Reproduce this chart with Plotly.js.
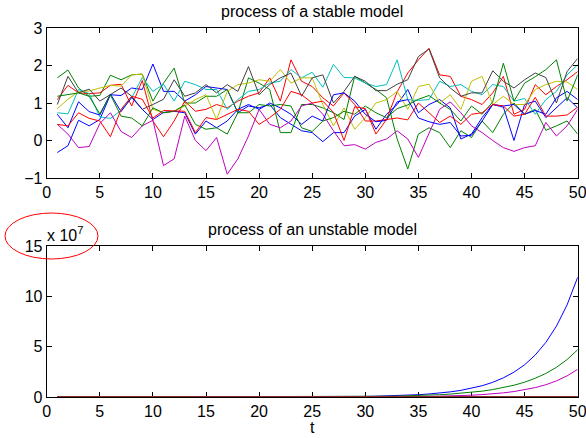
<!DOCTYPE html>
<html>
<head>
<meta charset="utf-8">
<script src="https://cdn.plot.ly/plotly-3.0.1.min.js"></script>
<style>html,body{margin:0;padding:0;background:#fff}#chart{width:586px;height:438px}</style>
</head>
<body>
<div id="chart"></div>
<script>
// time steps
const t = [1,2,3,4,5,6,7,8,9,10,11,12,13,14,15,16,17,18,19,20,21,22,23,24,25,26,27,28,29,30,31,32,33,34,35,36,37,38,39,40,41,42,43,44,45,46,47,48,49,50];

// ---- stable model (top) : 10 realisations ----
const stableB1 = [-0.32,-0.14,0.54,0.39,0.56,1.22,1.2,1.4,1.36,2.04,1.31,1.31,1.05,1.22,1.44,1.4,1.36,0.74,0.92,0.87,0.96,0.61,0.43,0.26,0.21,-0.03,0.21,0.21,0.65,0.83,0.3,0.7,0.96,1.36,0.74,0.96,1.09,0.87,0.04,0.17,0.61,0.96,0.89,0.0,0.96,1.05,0.61,0.87,1.14,0.87];
const stableG1 = [1.67,1.88,1.4,1.18,1.2,1.74,1.62,1.75,1.77,1.05,1.53,1.93,1.0,1.0,1.18,1.18,1.36,0.74,1.67,1.53,1.36,0.21,0.21,0.96,0.96,0.87,0.74,0.56,1.71,1.53,1.36,1.14,0.04,-0.76,0.17,0.34,0.21,-0.19,0.26,0.08,0.52,0.21,0.7,1.0,0.7,0.83,0.27,0.39,0.52,0.17];
const stableR1 = [1.09,1.47,1.27,1.25,1.27,1.47,1.5,0.92,1.6,0.52,0.1,0.52,1.05,0.78,0.83,0.96,0.87,1.05,1.18,1.27,1.67,1.05,2.15,1.58,1.44,1.14,0.92,1.27,0.96,0.52,0.52,0.56,1.3,1.8,2.15,2.46,1.75,1.71,1.18,1.09,0.96,1.27,1.71,0.7,0.83,1.49,1.22,1.44,1.62,1.84];
const stableC = [0.74,0.71,1.36,1.25,0.63,0.59,0.8,1.14,1.68,1.31,1.5,1.05,1.58,1.49,1.36,1.36,0.83,1.09,1.31,1.36,1.53,1.58,1.89,1.67,1.82,1.42,2.03,1.68,1.67,1.53,1.44,1.49,2.15,1.09,1.07,1.09,1.58,1.44,1.49,1.31,1.22,1.49,1.44,1.05,1.12,0.7,1.09,1.31,1.75,2.02];
const stableM = [0.43,0.17,-0.19,-0.16,0.45,0.74,0.24,0.08,0.39,0.54,-0.67,-0.49,0.65,0.0,-0.27,0.08,-0.9,-0.49,0.12,0.83,0.43,0.34,0.52,0.92,1.0,0.7,0.26,-0.14,-0.11,-0.23,-0.05,0.04,0.26,0.04,-0.45,0.17,0.83,1.03,0.74,0.39,0.21,0.0,-0.19,-0.29,-0.19,-0.14,0.48,0.12,0.39,0.83];
const stableY = [0.85,1.1,1.3,1.32,1.4,1.47,1.45,1.75,1.77,0.83,0.74,0.78,0.92,1.09,1.22,0.56,1.31,1.49,1.53,1.62,1.58,1.89,1.53,1.67,1.67,0.96,0.39,0.87,0.3,0.61,1.0,1.09,1.31,0.83,1.44,1.5,1.0,1.22,0.83,1.58,1.71,0.96,1.18,0.96,0.96,1.36,1.49,1.58,1.56,1.36];
const stableK = [0.96,1.71,1.27,1.37,1.05,1.22,1.4,1.18,0.83,0.96,1.1,1.62,1.18,1.27,1.49,1.27,1.49,1.31,1.97,1.22,1.49,1.67,1.8,1.18,1.67,1.75,1.0,1.31,1.71,1.58,1.33,1.33,1.5,1.62,2.24,2.44,1.67,1.4,1.18,1.27,1.27,1.86,1.58,1.4,1.62,1.8,1.68,1.0,1.84,2.19];
const stableB2 = [0.7,0.34,1.03,0.77,0.68,1.24,0.77,1.15,0.83,0.56,0.75,0.78,0.74,0.17,0.52,0.34,0.52,0.83,0.96,0.83,1.0,0.87,0.7,0.43,0.65,0.52,1.22,1.27,1.05,0.7,0.5,0.54,1.03,1.09,0.6,0.5,0.43,0.48,0.12,0.14,0.52,0.96,0.92,0.96,0.7,0.8,0.7,1.14,1.31,1.09];
const stableG2 = [1.18,1.22,1.27,1.18,0.71,1.22,0.65,0.6,0.39,0.87,0.74,0.78,0.95,0.43,0.3,0.34,0.17,0.74,0.74,0.96,0.92,0.96,0.92,0.34,0.24,0.52,0.61,0.78,0.7,0.92,0.74,0.61,0.85,0.95,1.1,1.2,1.0,0.83,0.52,0.92,0.7,1.03,2.06,1.05,1.53,1.7,1.89,2.15,1.05,1.75];
const stableR2 = [0.43,0.39,0.74,0.59,0.52,0.1,0.83,1.18,1.1,0.6,0.8,0.78,0.78,0.21,0.61,0.56,0.7,0.83,0.78,0.43,0.61,0.83,1.31,1.22,1.0,1.05,0.75,0.0,0.9,0.85,0.17,0.56,0.6,0.55,1.0,0.75,0.48,0.65,0.43,0.7,0.74,0.96,0.92,0.65,0.7,1.15,0.65,0.65,0.68,0.89];

// ---- unstable model (bottom), values in units of 1e7 ----
const unstableB1 = [0,0,0,0,0,0,0,0,0,0,0,0,0,0,0,0,0,0,0,0.004,0.006,0.007,0.01,0.012,0.016,0.021,0.028,0.036,0.047,0.06,0.08,0.105,0.14,0.18,0.23,0.3,0.39,0.51,0.66,0.86,1.12,1.46,1.9,2.47,3.2,4.17,5.42,7.04,9.15,11.9];
const unstableG1 = [0,0,0,0,0,0,0,0,0,0,0,0,0,0,0,0,0,0,0,0.004,0.005,0.007,0.009,0.011,0.014,0.018,0.022,0.028,0.036,0.045,0.057,0.072,0.09,0.115,0.145,0.18,0.23,0.29,0.37,0.46,0.58,0.74,0.93,1.17,1.47,1.86,2.34,2.95,3.72,4.7];
const unstableM = [0,0,0,0,0,0,0,0,0,0,0,0,0,0,0,0,0,0,0,0,0,0,0,0,0,0,0.005,0.007,0.009,0.012,0.015,0.02,0.027,0.035,0.045,0.06,0.08,0.1,0.14,0.18,0.24,0.31,0.41,0.54,0.71,0.93,1.22,1.6,2.1,2.75];
const unstableFlat = [0,0,0,0,0,0,0,0,0,0,0,0,0,0,0,0,0,0,0,0,0,0,0,0,0,0,0,0,0,0,0,0,0,0,0,0,0,0,0,0,0,0,0,0,0,0,0,0,0,0];

const xTicks = [0,5,10,15,20,25,30,35,40,45,50];
const yTicksTop = [-1,0,1,2,3];
const yTicksBottom = [0,5,10,15];

const colors = ['#0000FF','#008000','#FF0000','#00BFBF','#BF00BF','#BFBF00','#404040','#0000FF','#008000','#FF0000'];
const stableSeries = [stableB1,stableG1,stableR1,stableC,stableM,stableY,stableK,stableB2,stableG2,stableR2];
const unstableSeries = [unstableB1,unstableG1,unstableFlat,unstableFlat,unstableM,unstableFlat,unstableFlat,unstableFlat,unstableFlat,unstableFlat];

const traces = [];
stableSeries.forEach((s,i)=>traces.push({x:t,y:s,type:'scatter',mode:'lines',line:{color:colors[i],width:1},xaxis:'x',yaxis:'y',showlegend:false,hoverinfo:'skip'}));
unstableSeries.forEach((s,i)=>traces.push({x:t,y:s,type:'scatter',mode:'lines',line:{color:colors[i],width:1},xaxis:'x2',yaxis:'y2',showlegend:false,hoverinfo:'skip'}));

const W=586,H=438;
const font = {family:'Liberation Sans, Arial, Helvetica, sans-serif', size:16, color:'#000'};
const axBase = {showline:true, mirror:'ticks', linecolor:'#000', linewidth:1, ticks:'inside', ticklen:5, tickcolor:'#000', tickwidth:1, showgrid:false, zeroline:false, tickfont:font, fixedrange:true, ticklabeloverflow:'allow'};
const xDom = [46.7/W, 577.7/W];

const layout = {
  width:W, height:H, margin:{l:0,r:0,t:0,b:0}, paper_bgcolor:'#fff', plot_bgcolor:'#fff', font:font, showlegend:false,
  xaxis: Object.assign({}, axBase, {domain:xDom, anchor:'y', range:[0,50], tickvals:xTicks, ticktext:xTicks.map(String)}),
  yaxis: Object.assign({}, axBase, {domain:[1-178/H, 1-28/H], anchor:'x', range:[-1,3], tickvals:yTicksTop, ticktext:yTicksTop.map(v=>v<0?'\u2212'+Math.abs(v):String(v))}),
  xaxis2: Object.assign({}, axBase, {domain:xDom, anchor:'y2', range:[0,50], tickvals:xTicks, ticktext:xTicks.map(String), layer:'below traces'}),
  yaxis2: Object.assign({}, axBase, {domain:[1-397/H, 1-246/H], anchor:'x2', range:[0,15], tickvals:yTicksBottom, ticktext:yTicksBottom.map(String)}),
  annotations:[
    {text:'process of a stable model', xref:'paper', yref:'paper', x:312.2/W, y:1-11/H, xanchor:'center', yanchor:'middle', showarrow:false, font:font},
    {text:'process of an unstable model', xref:'paper', yref:'paper', x:312.2/W, y:1-229/H, xanchor:'center', yanchor:'middle', showarrow:false, font:font},
    {text:'x 10<sup>7</sup>', xref:'paper', yref:'paper', x:45/W, y:1-234/H, xanchor:'left', yanchor:'middle', showarrow:false, font:font},
    {text:'t', xref:'paper', yref:'paper', x:312.2/W, y:1-427/H, xanchor:'center', yanchor:'middle', showarrow:false, font:font}
  ],
  shapes:[
    {type:'circle', xref:'paper', yref:'paper', x0:5/W, x1:98/W, y0:1-259/H, y1:1-213/H, line:{color:'#FF0000', width:1}}
  ]
};
Plotly.newPlot('chart', traces, layout, {staticPlot:true, displayModeBar:false});
</script>
</body>
</html>
